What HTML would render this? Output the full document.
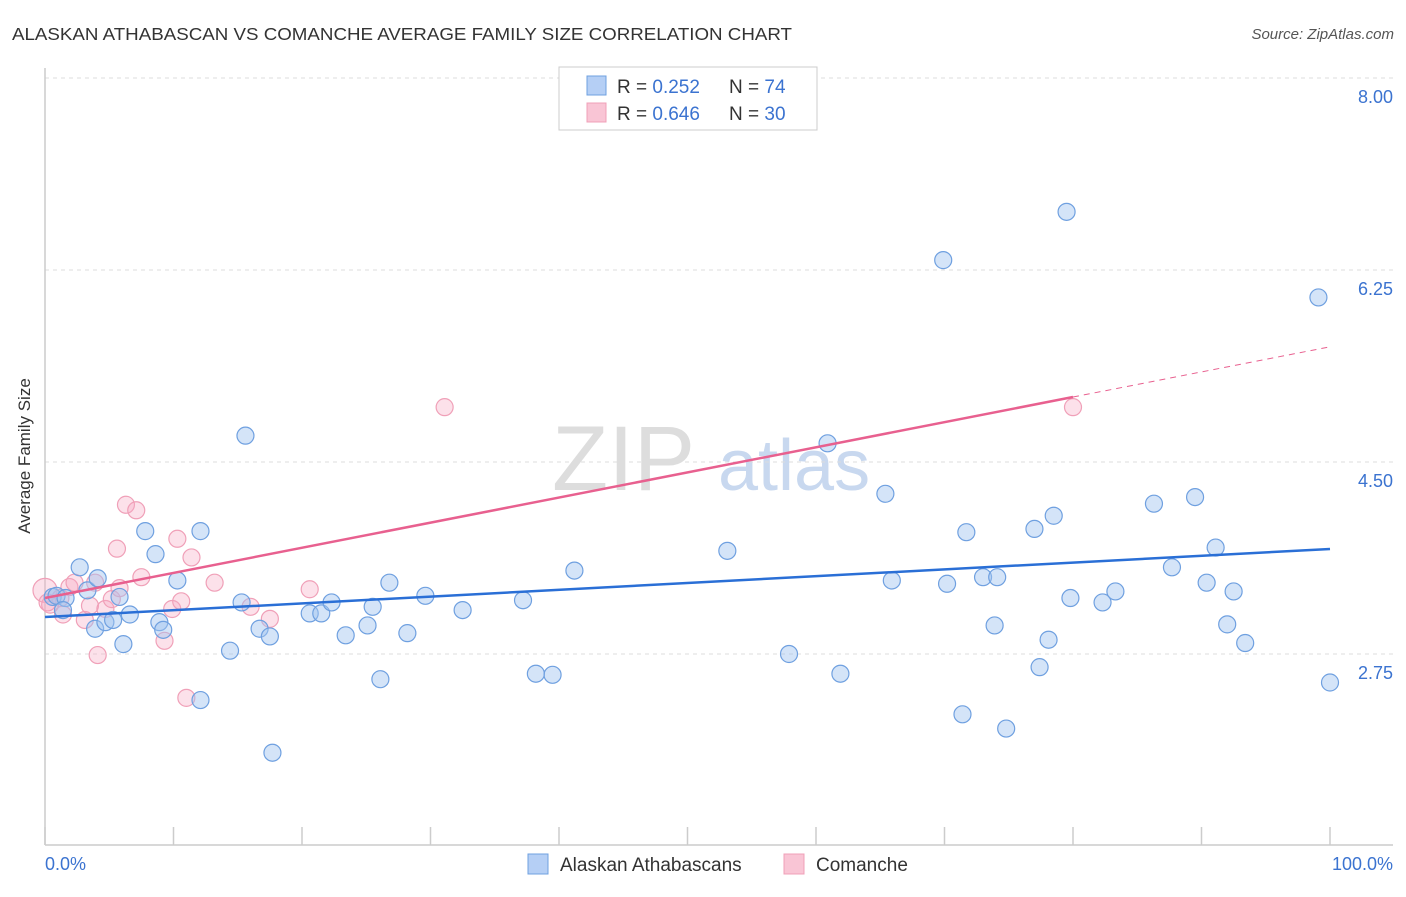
<!DOCTYPE html>
<html><head><meta charset="utf-8"><style>
body{margin:0;background:#fff;font-family:"Liberation Sans",sans-serif;}
svg text{font-family:"Liberation Sans",sans-serif;}
</style></head><body>
<svg id="c" width="1406" height="892" xmlns="http://www.w3.org/2000/svg">
<text x="12" y="40" font-size="17.5" fill="#333" textLength="780" lengthAdjust="spacingAndGlyphs">ALASKAN ATHABASCAN VS COMANCHE AVERAGE FAMILY SIZE CORRELATION CHART</text>
<text x="1394" y="39" font-size="15" fill="#555" text-anchor="end" font-style="italic">Source: ZipAtlas.com</text>
<g><text x="552" y="490" font-size="92" fill="#ddd" font-family="Liberation Serif">ZIP</text><text x="718" y="490" font-size="72" fill="#c8d8ef">atlas</text></g>
<g id="grid"></g><g id="axes"></g><g id="marks"></g>
<text x="30" y="456" font-size="17" fill="#333" text-anchor="middle" transform="rotate(-90 30 456)">Average Family Size</text>
<text x="45" y="870" font-size="18" fill="#3b73d0">0.0%</text>
<text x="1393" y="870" font-size="18" fill="#3b73d0" text-anchor="end">100.0%</text>
<g>
<rect x="559" y="67" width="258" height="63" fill="#fff" stroke="#ccc"/>
<rect x="587" y="76" width="19" height="19" fill="#b5cff5" stroke="#6fa0e0"/>
<text x="617" y="93" font-size="19" fill="#333">R = <tspan fill="#3b73d0">0.252</tspan></text>
<text x="729" y="93" font-size="19" fill="#333">N = <tspan fill="#3b73d0">74</tspan></text>
<rect x="587" y="103" width="19" height="19" fill="#f9c5d5" stroke="#f0a0b8"/>
<text x="617" y="120" font-size="19" fill="#333">R = <tspan fill="#3b73d0">0.646</tspan></text>
<text x="729" y="120" font-size="19" fill="#333">N = <tspan fill="#3b73d0">30</tspan></text>
</g>
<g>
<rect x="528" y="854" width="20" height="20" fill="#b5cff5" stroke="#6fa0e0"/>
<text x="560" y="871" font-size="19" fill="#333">Alaskan Athabascans</text>
<rect x="784" y="854" width="20" height="20" fill="#f9c5d5" stroke="#f0a0b8"/>
<text x="816" y="871" font-size="19" fill="#333">Comanche</text>
</g>
</svg>
<script>
const yTicks=[8.00,6.25,4.50,2.75];
const yTickLabels=["8.00","6.25","4.50","2.75"];
const blueX=[0.6,0.9,1.6,1.4,2.7,3.3,4.1,3.9,4.7,5.3,5.8,6.1,6.6,7.8,8.6,8.9,9.2,10.3,12.1,12.1,14.4,15.3,15.6,16.7,17.5,17.7,20.6,21.5,22.3,23.4,25.1,25.5,26.1,26.8,28.2,29.6,32.5,37.2,38.2,39.5,41.2,53.1,57.9,60.9,61.9,65.4,65.9,69.9,70.2,71.4,71.7,73.0,73.9,74.1,74.8,77.0,77.4,78.1,78.5,79.5,79.8,82.3,83.3,86.3,87.7,89.5,90.4,91.1,92.0,92.5,93.4,99.1,100];
const blueY=[3.27,3.28,3.26,3.15,3.54,3.33,3.44,2.98,3.04,3.06,3.27,2.84,3.11,3.87,3.66,3.04,2.97,3.42,3.87,2.33,2.78,3.22,4.74,2.98,2.91,1.85,3.12,3.12,3.22,2.92,3.01,3.18,2.52,3.40,2.94,3.28,3.15,3.24,2.57,2.56,3.51,3.69,2.75,4.67,2.57,4.21,3.42,6.34,3.39,2.20,3.86,3.45,3.01,3.45,2.07,3.89,2.63,2.88,4.01,6.78,3.26,3.22,3.32,4.12,3.54,4.18,3.40,3.72,3.02,3.32,2.85,6.00,2.49];
const pinkX=[0,0.4,1.4,1.9,2.3,3.1,3.5,3.9,4.1,4.7,5.2,5.6,5.8,6.3,7.1,7.5,9.3,9.9,10.3,10.6,11.0,11.4,13.2,16.0,17.5,20.6,31.1,80.0,1.2,0.2];
const pinkY=[3.33,3.20,3.11,3.36,3.40,3.06,3.19,3.40,2.74,3.16,3.25,3.71,3.35,4.11,4.06,3.45,2.87,3.16,3.80,3.23,2.35,3.63,3.40,3.18,3.07,3.34,5.00,5.00,3.26,3.22];
const blueTrend=[3.087,3.707];
const pinkTrend=[3.26,5.55];
const NS="http://www.w3.org/2000/svg";
const X=v=>45+v*12.85, Y=v=>78+(8-v)*109.71;
function mk(t,a,p){const e=document.createElementNS(NS,t);for(const k in a)e.setAttribute(k,a[k]);p.appendChild(e);return e;}
const grid=document.getElementById('grid'),axes=document.getElementById('axes'),marks=document.getElementById('marks');
yTicks.forEach((t,i)=>{
 const l=mk('line',{x1:45,x2:1393,y1:Y(t),y2:Y(t),stroke:'#ddd','stroke-dasharray':'4,4'},grid);
 
 
 const tx=mk('text',{x:1393,y:Y(t)+25,'font-size':18,fill:'#3b73d0','text-anchor':'end'},grid);
 tx.textContent=yTickLabels[i];
 
 
});
const ax=mk('line',{x1:45,x2:45,y1:68,y2:845,stroke:'#ccc','stroke-width':1.5},axes);


const bx=mk('line',{x1:45,x2:1393,y1:845,y2:845,stroke:'#ccc','stroke-width':1.5},axes);


for(let i=0;i<=10;i++){const t=mk('line',{x1:X(i*10),x2:X(i*10),y1:827,y2:845,stroke:'#ccc','stroke-width':1.5},axes);
 
 }
pinkX.forEach((x,i)=>{const c=mk('circle',{cx:X(x),cy:Y(pinkY[i]),r:i===0?12:8.5,fill:'rgba(245,170,195,0.35)',stroke:'#f0a0b8','stroke-width':1.2},marks);
 
 });
blueX.forEach((x,i)=>{const c=mk('circle',{cx:X(x),cy:Y(blueY[i]),r:8.5,fill:'rgba(160,196,240,0.45)',stroke:'#6fa0e0','stroke-width':1.2},marks);
 
 });
const pv=x=>pinkTrend[0]+(pinkTrend[1]-pinkTrend[0])*x/100;
const p1=mk('line',{x1:X(0),y1:Y(pv(0)),x2:X(80),y2:Y(pv(80)),stroke:'#e8608f','stroke-width':2.5},marks);


const p2=mk('line',{x1:X(80),y1:Y(pv(80)),x2:X(100),y2:Y(pv(100)),stroke:'#e8608f','stroke-width':1,'stroke-dasharray':'6,5'},marks);


const b1=mk('line',{x1:X(0),y1:Y(blueTrend[0]),x2:X(100),y2:Y(blueTrend[1]),stroke:'#2a6fd6','stroke-width':2.5},marks);


</script>
</body></html>
